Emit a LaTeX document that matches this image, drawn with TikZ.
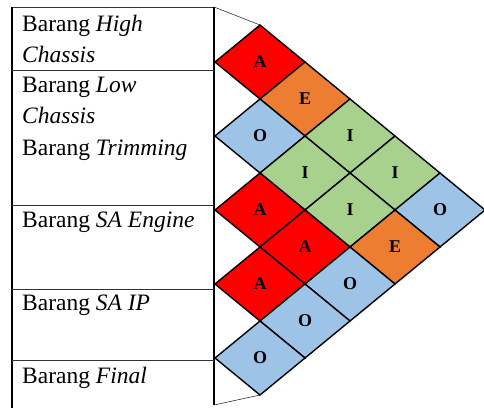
\documentclass[tikz,border=0pt]{standalone}
\usepackage{fontspec}
\setmainfont{Liberation Serif}
\definecolor{cA}{HTML}{FF0000}
\definecolor{cE}{HTML}{ED7D31}
\definecolor{cI}{HTML}{A9D18E}
\definecolor{cO}{HTML}{9DC3E6}
\begin{document}
\begin{tikzpicture}[x=1pt,y=-1pt,
  rowtext/.style={anchor=base west,inner sep=0pt,font=\fontsize{23.5}{31}\selectfont},
  cell/.style={draw=black,line width=1.4pt,line join=miter},
  lettr/.style={inner sep=0pt,font=\fontsize{18}{20}\selectfont\bfseries},
  tabline/.style={draw=black!80,line width=1pt}]
\useasboundingbox (0,0) rectangle (484,408);
% table
\coordinate (tl) at (12,7);
\coordinate (tr) at (214,7);
\coordinate (bl) at (12,408);
\coordinate (br) at (214,405);
\draw[tabline] (tl) -- (tr);
\draw[black,line width=1.3pt] (tl) -- (bl);
\draw[black,line width=1.8pt] (tr) -- (br);
\foreach \yy in {70,205,289,360}{\draw[tabline] (12,\yy) -- (214,\yy);}
% texts
\node[rowtext] (t1) at (22,31) {Barang \textit{High}};
\node[rowtext] (t2) at (22,62) {\textit{Chassis}};
\node[rowtext] (t3) at (22,92) {Barang \textit{Low}};
\node[rowtext] (t4) at (22,123) {\textit{Chassis}};
\node[rowtext] (t5) at (22,155) {Barang \textit{Trimming}};
\node[rowtext] (t6) at (22,227) {Barang \textit{SA Engine}};
\node[rowtext] (t7) at (22,310) {Barang \textit{SA IP}};
\node[rowtext] (t8) at (22,383) {Barang \textit{Final}};
% diamonds
\foreach \i/\j/\L in {1/2/A,1/3/E,2/3/O,1/4/I,2/4/I,3/4/A,1/5/I,2/5/I,3/5/A,4/5/A,1/6/O,2/6/E,3/6/O,4/6/O,5/6/O}{
  \pgfmathsetmacro{\cx}{215+45*(\j-\i)}
  \pgfmathsetmacro{\cy}{62+37*(\i+\j-3)}
  \draw[cell,fill=c\L] (\cx-45,\cy) -- (\cx,\cy-37) -- (\cx+45,\cy) -- (\cx,\cy+37) -- cycle;
  \node[lettr] (d\i\j) at (\cx,\cy) {\L};
}
\coordinate (dtop) at (260,25);
\coordinate (dbot) at (260,395);
\draw[black!80,line width=0.6pt] (tr) -- (dtop);
\draw[black!80,line width=0.6pt] (br) -- (dbot);
\end{tikzpicture}
\end{document}
